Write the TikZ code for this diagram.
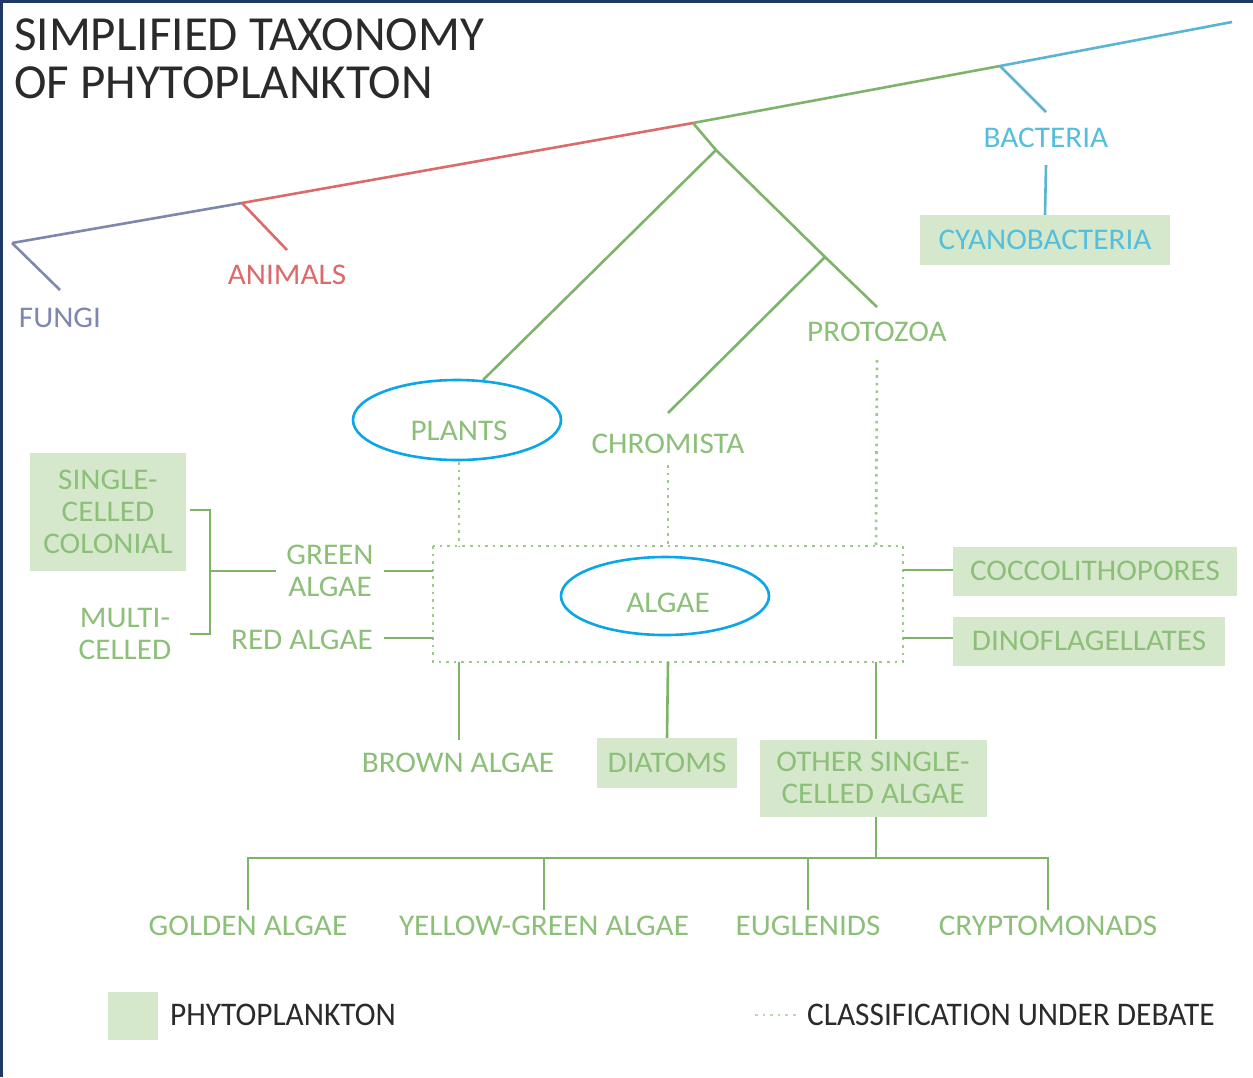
\documentclass[tikz,border=0pt]{standalone}
\usepackage{fontspec}
\setmainfont{Carlito}
\newfontfamily\labfont[FakeStretch=1.04]{Carlito}
\newfontfamily\legfont[FakeStretch=0.95]{Carlito}
\definecolor{navy}{HTML}{1F3864}
\definecolor{grline}{HTML}{7DB46A}
\definecolor{grtext}{HTML}{8CC079}
\definecolor{boxfill}{HTML}{D6E8CB}
\definecolor{cyline}{HTML}{5AB4D2}
\definecolor{cytext}{HTML}{55BEDC}
\definecolor{fungi}{HTML}{7E87AF}
\definecolor{animal}{HTML}{DD6A6A}
\definecolor{ring}{HTML}{0AA6E6}
\definecolor{dotc}{HTML}{9CC98B}
\definecolor{darktext}{HTML}{2A2A2A}
\begin{document}
\begin{tikzpicture}[x=1pt,y=-1pt,
  lbl/.style={font=\labfont\fontsize{30}{32}\selectfont, text=grtext, inner sep=0pt, align=center},
  pbox/.style={lbl, fill=boxfill},
  branch/.style={draw=grline, line width=2.6pt},
  debate/.style={draw=dotc, line width=2.6pt, dash pattern=on 2.6pt off 5pt},
  ringstyle/.style={draw=ring, line width=2.6pt},
  legtext/.style={font=\legfont\fontsize{33}{33}\selectfont, text=darktext, inner sep=0pt, anchor=west}
]
\useasboundingbox (0,0) rectangle (1253,1077);
\fill[white] (0,0) rectangle (1253,1077);
% frame edges
\fill[navy] (0,0) rectangle (1253,3);
\fill[navy] (0,0) rectangle (3,1077);

% title
\node[font=\fontsize{49}{49}\selectfont, text=darktext, anchor=base west, inner sep=0pt] (t1) at (14,50) {SIMPLIFIED TAXONOMY};
\node[font=\fontsize{49}{49}\selectfont, text=darktext, anchor=base west, inner sep=0pt] (t2) at (14,98) {OF PHYTOPLANKTON};

% points on the main stem
\coordinate (root) at (12,243);
\coordinate (jA) at (242,203);
\coordinate (jG) at (693,123);
\coordinate (jB) at (1000,66);
\coordinate (tip) at (1232,22);
\coordinate (jP) at (716,150);
\coordinate (jC) at (825,257);

% labels of the upper tree
\node[lbl, text=fungi] (fungi) at (60,318) {FUNGI};
\node[lbl, text=animal] (animals) at (287,275) {ANIMALS};
\node[lbl, text=cytext] (bacteria) at (1046,138) {BACTERIA};
\node[pbox, text=cytext, minimum width=250pt, minimum height=50pt] (cyano) at (1045,240) {CYANOBACTERIA};
\node[lbl] (protozoa) at (877,332) {PROTOZOA};
\node[lbl] (plants) at (459,431) {PLANTS};
\node[lbl] (chromista) at (668,444) {CHROMISTA};

% main stem
\draw[fungi, line width=2.6pt] (root) -- (jA);
\draw[animal, line width=2.6pt] (jA) -- (jG);
\draw[grline, line width=2.6pt] (jG) -- (jB);
\draw[cyline, line width=2.6pt] (jB) -- (tip);
\coordinate (fungiEnd) at (60,290);
\coordinate (animEnd) at (287,250);
\coordinate (bactEnd) at (1046,112);
\draw[fungi, line width=2.6pt] (root) -- (fungiEnd);
\draw[animal, line width=2.6pt] (jA) -- (animEnd);
\draw[cyline, line width=2.6pt] (jB) -- (bactEnd);
\draw[cyline, line width=2.6pt] ([yshift=-17pt]bacteria.south) -- (cyano.north);

% green branches
\coordinate (plantEnd) at (483,380);
\coordinate (chromEnd) at (668,413);
\coordinate (protoEnd) at (877,307);
\draw[branch] (jG) -- (jP) -- (jC) -- (protoEnd);
\draw[branch] (jP) -- (plantEnd);
\draw[branch] (jC) -- (chromEnd);

% algae group
\node[lbl] (algae) at (668,603) {ALGAE};
\coordinate (boxNW) at (433,546);
\coordinate (boxSE) at (903,662);
\draw[debate] (boxNW) rectangle (boxSE);
\coordinate (inP) at (459,546);
\coordinate (inC) at (668,546);
\coordinate (inZ) at (876,546);
\draw[debate] ([yshift=-21pt]plants.south) -- (inP);
\draw[debate] ([yshift=-11pt]chromista.south) -- (inC);
\draw[debate] ([yshift=-18pt]protozoa.south) -- (inZ);

% highlight rings
\draw[ringstyle] (457,420) ellipse [x radius=104pt, y radius=40pt];
\draw[ringstyle] (665,596) ellipse [x radius=104pt, y radius=39pt];

% left side
\node[lbl] (green) at (330,571) {GREEN\\ALGAE};
\node[lbl] (red) at (302,640) {RED ALGAE};
\node[pbox, minimum width=156pt, minimum height=118pt] (single) at (108,512) {SINGLE-\\CELLED\\COLONIAL};
\node[lbl] (multi) at (125,634) {MULTI-\\CELLED};
\coordinate (gL) at (433,571);
\coordinate (rL) at (433,638);
\draw[branch] (384,571) -- (gL);
\draw[branch] (384,638) -- (rL);
\coordinate (brTop) at (210,510);
\coordinate (brBot) at (210,634);
\coordinate (brMid) at (210,571);
\draw[branch] (190,510) -- (brTop) -- (brBot) -- (190,634);
\draw[branch] (brMid) -- (276,571);

% right side
\node[pbox, minimum width=284pt, minimum height=49pt] (cocco) at (1095,571) {COCCOLITHOPORES};
\node[pbox, minimum width=272pt, minimum height=49pt] (dino) at (1089,641) {DINOFLAGELLATES};
\draw[branch] (903,570) -- (cocco.west |- 903,570);
\draw[branch] (903,638) -- (dino.west |- 903,638);

% below the algae group
\node[lbl] (brown) at (458,763) {BROWN ALGAE};
\node[pbox, minimum width=140pt, minimum height=50pt] (diatoms) at (667,763) {DIATOMS};
\node[pbox, minimum width=227pt, minimum height=77pt] (other) at (873,778) {OTHER SINGLE-\\CELLED ALGAE};
\draw[branch] (459,662) -- (459,740);
\draw[branch] (668,662) -- (diatoms.north);
\draw[branch] (876,662) -- (other.north -| 876,662);

% single-celled groups
\node[lbl] (golden) at (248,926) {GOLDEN ALGAE};
\node[lbl] (yellow) at (544,926) {YELLOW-GREEN ALGAE};
\node[lbl] (eugl) at (808,926) {EUGLENIDS};
\node[lbl] (crypto) at (1048,926) {CRYPTOMONADS};
\coordinate (hub) at (876,858);
\draw[branch] (other.south -| hub) -- (hub);
\draw[branch] (248,910) -- (248,858) -- (1048,858) -- (1048,910);
\draw[branch] (544,858) -- (544,910);
\draw[branch] (808,858) -- (808,910);

% legend
\node[fill=boxfill, minimum width=50pt, minimum height=48pt, inner sep=0pt] (legbox) at (133,1016) {};
\node[legtext] (legphy) at (170,1015) {PHYTOPLANKTON};
\coordinate (dotA) at (755,1015);
\draw[draw=dotc!70, line width=2.6pt, dash pattern=on 2.6pt off 5pt] (dotA) -- (797,1015);
\node[legtext] (legdeb) at (807,1015) {CLASSIFICATION UNDER DEBATE};
\end{tikzpicture}
\end{document}
